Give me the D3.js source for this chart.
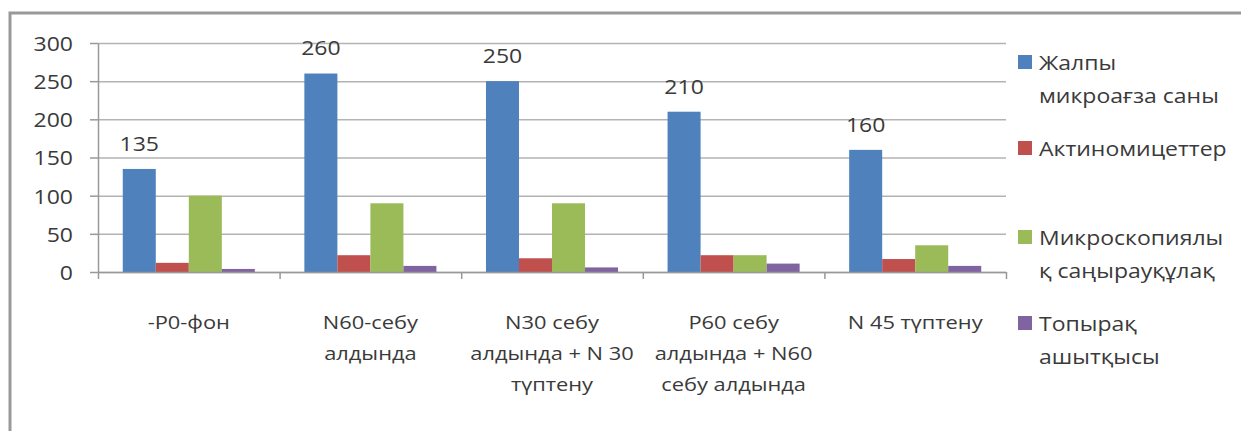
<!DOCTYPE html>
<html>
<head>
<meta charset="utf-8">
<script src="https://cdn.jsdelivr.net/npm/d3@7"></script>
<style>
  body { margin: 0; background: #fff; }
  text { font-family: "Open Sans", sans-serif; fill: #3a3a3a; }
</style>
</head>
<body>
<div id="chart"></div>
<script>
// data
var categories = [
  ["-Р0-фон"],
  ["N60-себу", "алдында"],
  ["N30 себу", "алдында + N 30", "түптену"],
  ["Р60 себу", "алдында  + N60", "себу алдында"],
  ["N 45 түптену"]
];
var seriesNames = [
  ["Жалпы", "микроағза саны"],
  ["Актиномицеттер"],
  ["Микроскопиялы", "қ саңырауқұлақ"],
  ["Топырақ", "ашытқысы"]
];
var total = [135, 260, 250, 210, 160];
var actino = [12, 22, 18, 22, 17];
var fungi = [100, 90, 90, 22, 35];
var yeast = [4, 8, 6, 11, 8];
var yTicks = [0, 50, 100, 150, 200, 250, 300];

var colors = ["#4f81bd", "#c0504d", "#9bbb59", "#8064a2"];
var allSeries = [total, actino, fungi, yeast];

var svgWidth = 1241, svgHeight = 431;
var plotL = 98, plotR = 1006, plotT = 43, plotB = 272;
var sx = 1.15; // the picture's text is stretched sideways

var svg = d3.select("#chart").append("svg")
  .attr("width", svgWidth)
  .attr("height", svgHeight);

// frame (only left and top edges show)
svg.append("path")
  .attr("d", "M10," + svgHeight + "V13H" + svgWidth)
  .attr("fill", "none")
  .attr("stroke", "#999")
  .attr("stroke-width", 3);

var idx = d3.range(categories.length);

var x = d3.scaleBand().domain(idx).range([plotL, plotR]);
var xSub = d3.scaleBand().domain(d3.range(allSeries.length))
  .range([0, x.bandwidth()])
  .paddingOuter(0.75);
var y = d3.scaleLinear().domain([0, 300]).range([plotB, plotT]);
var xEdges = d3.scaleLinear().domain([0, categories.length]).range([plotL, plotR]);

// helper: stretched text
function sText(g, tx, ty, str, anchor, size) {
  return g.append("text")
    .attr("transform", "translate(" + tx + "," + ty + ") scale(" + sx + ",1)")
    .attr("text-anchor", anchor)
    .attr("dominant-baseline", "central")
    .attr("font-size", size + "px")
    .text(str);
}

// gridlines
var grid = svg.append("g")
  .attr("transform", "translate(" + plotL + ",0)")
  .call(d3.axisLeft(y).tickValues(yTicks).tickSize(-(plotR - plotL)).tickFormat(""));
grid.select(".domain").remove();
grid.selectAll("line").attr("stroke", "#b3b3b3").attr("stroke-width", 1.5);

// y axis
var yAxis = svg.append("g")
  .attr("transform", "translate(" + plotL + ",0)")
  .call(d3.axisLeft(y).tickValues(yTicks).tickSize(8).tickSizeOuter(0).tickFormat(""));
yAxis.selectAll("line, path").attr("stroke", "#999").attr("stroke-width", 1.5);

yTicks.forEach(function(t) {
  sText(svg, 73, y(t), t, "end", 20);
});

// bars
allSeries.forEach(function(vals, s) {
  svg.append("g").selectAll("rect")
    .data(vals)
    .enter()
    .append("rect")
    .attr("x", (d, i) => x(i) + xSub(s))
    .attr("y", d => y(d))
    .attr("width", xSub.bandwidth())
    .attr("height", d => y(0) - y(d))
    .attr("fill", colors[s]);
});

// x axis with ticks at category edges
var xAxis = svg.append("g")
  .attr("transform", "translate(0," + plotB + ")")
  .call(d3.axisBottom(xEdges).tickValues(d3.range(categories.length + 1)).tickSize(7).tickSizeOuter(0).tickFormat(""));
xAxis.selectAll("line, path").attr("stroke", "#999").attr("stroke-width", 1.5);

// value labels on the first series
total.forEach(function(v, i) {
  sText(svg, x(i) + xSub(0) + xSub.bandwidth() / 2, y(v) - 26, v, "middle", 20);
});

// category labels
categories.forEach(function(lines, i) {
  lines.forEach(function(line, k) {
    sText(svg, x(i) + x.bandwidth() / 2, 322 + k * 31, line, "middle", 19);
  });
});

// legend
var legendY = [62, 148, 237, 323];
seriesNames.forEach(function(lines, s) {
  svg.append("rect")
    .attr("x", 1018)
    .attr("y", legendY[s] - 7)
    .attr("width", 14)
    .attr("height", 14)
    .attr("fill", colors[s]);
  lines.forEach(function(line, k) {
    sText(svg, 1039, legendY[s] + k * 33, line, "start", 20);
  });
});
</script>
</body>
</html>
